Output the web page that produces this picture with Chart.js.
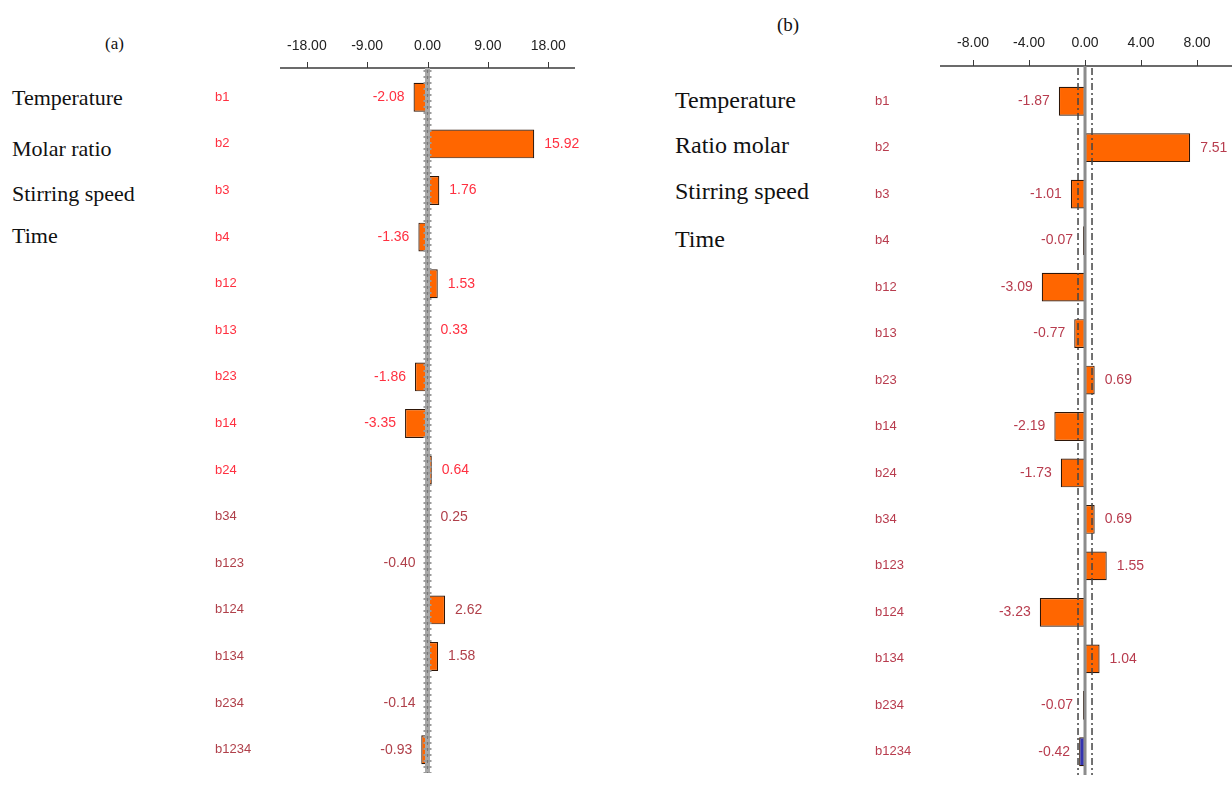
<!DOCTYPE html>
<html><head><meta charset="utf-8">
<script src="https://cdn.jsdelivr.net/npm/chart.js@4.4.1/dist/chart.umd.min.js"></script>
<style>
html,body{margin:0;padding:0;background:#fff;width:1232px;height:787px;overflow:hidden;position:relative}
.box{position:absolute;top:0;height:787px}
.lbl{position:absolute;font-family:'Liberation Serif','Times New Roman',serif;color:#111;white-space:nowrap;line-height:1}
</style></head><body>
<div id="textLayer"></div>
<div class="box" style="left:0;width:620px"><canvas id="chartA"></canvas></div>
<div class="box" style="left:640px;width:592px"><canvas id="chartB"></canvas></div>
<script>
// ---- data ----
const categories = ['b1','b2','b3','b4','b12','b13','b23','b14','b24','b34','b123','b124','b134','b234','b1234'];
const valuesA = [-2.08, 15.92, 1.76, -1.36, 1.53, 0.33, -1.86, -3.35, 0.64, 0.25, -0.40, 2.62, 1.58, -0.14, -0.93];
const valuesB = [-1.87, 7.51, -1.01, -0.07, -3.09, -0.77, 0.69, -2.19, -1.73, 0.69, 1.55, -3.23, 1.04, -0.07, -0.42];
const ticksA = [-18, -9, 0, 9, 18];
const ticksB = [-8, -4, 0, 4, 8];
const factorsA = ['Temperature', 'Molar ratio', 'Stirring speed', 'Time'];
const factorsB = ['Temperature', 'Ratio molar', 'Stirring speed', 'Time'];
const limitB = 0.5;
const titleA = '(a)';
const titleB = '(b)';

// ---- static text (positions kept separate from data) ----
const layer = document.getElementById('textLayer');
function addText(t, x, y, fs){
  const d = document.createElement('div');
  d.className = 'lbl'; d.textContent = t;
  d.style.left = x + 'px'; d.style.top = y + 'px'; d.style.fontSize = fs + 'px';
  layer.appendChild(d);
}
addText(titleA, 105, 35, 17);
addText(titleB, 777, 15, 19);
const topsA = [86.6, 138.3, 183.3, 224.6];
const topsB = [88.2, 132.6, 178.9, 226.6];
factorsA.forEach((t,i)=>addText(t, 12, topsA[i], 22));
factorsB.forEach((t,i)=>addText(t, 675, topsB[i], 24));

const FONT = "'Liberation Sans Narrow','Liberation Sans',Arial,sans-serif";

const decorPlugin = {
  id: 'decor',
  afterDatasetsDraw(chart, args, opts) {
    const ctx = chart.ctx;
    const xs = chart.scales.x;
    const ca = chart.chartArea;
    const axisY = ca.top - opts.axisGap;
    ctx.save();
    // axis line + tick marks
    ctx.strokeStyle = '#3a3a3a';
    ctx.lineWidth = 1.5;
    ctx.beginPath(); ctx.moveTo(ca.left, axisY); ctx.lineTo(ca.right, axisY); ctx.stroke();
    ctx.lineWidth = 1;
    xs.ticks.forEach(t => {
      const px = Math.round(xs.getPixelForValue(t.value)) + 0.5;
      ctx.beginPath(); ctx.moveTo(px, axisY - 6); ctx.lineTo(px, axisY); ctx.stroke();
    });
    const x0 = xs.getPixelForValue(0);
    if (opts.style === 'a') {
      ctx.strokeStyle = '#a8a8a8'; ctx.lineWidth = 5;
      ctx.beginPath(); ctx.moveTo(x0, axisY); ctx.lineTo(x0, ca.bottom); ctx.stroke();
      ctx.setLineDash([2, 4]); ctx.lineWidth = 8; ctx.strokeStyle = '#9c9c9c';
      ctx.beginPath(); ctx.moveTo(x0, axisY + 2); ctx.lineTo(x0, ca.bottom); ctx.stroke();
      ctx.setLineDash([3, 3]); ctx.lineWidth = 1; ctx.strokeStyle = '#777';
      ctx.beginPath(); ctx.moveTo(x0, axisY + 2); ctx.lineTo(x0, ca.bottom); ctx.stroke();
    } else {
      ctx.strokeStyle = '#8c8c8c'; ctx.lineWidth = 3;
      ctx.beginPath(); ctx.moveTo(x0, axisY); ctx.lineTo(x0, ca.bottom); ctx.stroke();
      ctx.setLineDash([7, 3, 2, 3]); ctx.lineWidth = 1.5; ctx.strokeStyle = '#444';
      [-opts.limit, opts.limit].forEach(v => {
        const px = xs.getPixelForValue(v);
        ctx.beginPath(); ctx.moveTo(px, axisY + 2); ctx.lineTo(px, ca.bottom); ctx.stroke();
      });
    }
    ctx.setLineDash([]);
    // value labels
    ctx.font = '14px ' + FONT;
    ctx.textBaseline = 'middle';
    const meta = chart.getDatasetMeta(0);
    const data = chart.data.datasets[0].data;
    meta.data.forEach((bar, i) => {
      const v = data[i];
      ctx.fillStyle = opts.labelColor(i);
      const txt = v.toFixed(2);
      if (v < 0) {
        ctx.textAlign = 'right';
        ctx.fillText(txt, Math.min(bar.x, x0 - 3) - 9, bar.y);
      } else {
        ctx.textAlign = 'left';
        ctx.fillText(txt, Math.max(bar.x, x0 + 3) + 10, bar.y);
      }
    });
    ctx.restore();
  }
};

function makeChart(id, values, tickVals, cfg) {
  return new Chart(document.getElementById(id), {
    type: 'bar',
    data: {
      labels: categories,
      datasets: [{
        data: values,
        backgroundColor: values.map((v, i) => cfg.barColor(i)),
        borderColor: '#2e1608',
        borderWidth: 1.2,
        borderSkipped: false,
        minBarLength: 2,
        barPercentage: 0.62,
        categoryPercentage: 1
      }]
    },
    options: {
      indexAxis: 'y',
      responsive: true,
      maintainAspectRatio: false,
      animation: false,
      layout: { padding: cfg.padding },
      plugins: { legend: { display: false }, tooltip: { enabled: false },
        decor: { axisGap: cfg.axisGap, style: cfg.style, limit: limitB, labelColor: cfg.labelColor } },
      scales: {
        x: {
          position: 'top',
          min: cfg.min, max: cfg.max,
          grid: { display: false, drawTicks: false },
          border: { display: false },
          afterBuildTicks: s => { s.ticks = tickVals.map(v => ({ value: v })); },
          afterFit: s => { s.height = cfg.axisHeight; s.paddingLeft = 0; s.paddingRight = 0; },
          ticks: {
            padding: cfg.tickPad,
            maxRotation: 0,
            autoSkip: false,
            color: '#222',
            font: { family: FONT, size: 14 },
            callback: v => Number(v).toFixed(2)
          }
        },
        y: {
          grid: { display: false, drawTicks: false },
          border: { display: false },
          afterFit: s => { s.width = 65; s.paddingTop = 0; s.paddingBottom = 0; },
          ticks: {
            crossAlign: 'far',
            padding: 0,
            autoSkip: false,
            color: c => cfg.labelColor(c.index),
            font: { family: FONT, size: 13 }
          }
        }
      }
    },
    plugins: [decorPlugin]
  });
}

makeChart('chartA', valuesA, ticksA, {
  min: -22, max: 22,
  padding: { left: 215, right: 45, top: 0, bottom: 14 },
  axisHeight: 74, axisGap: 6, tickPad: 19, style: 'a',
  barColor: i => '#ff6600',
  labelColor: i => (i < 9 ? '#ff3040' : '#b0404a')
});
makeChart('chartB', valuesB, ticksB, {
  min: -10.36, max: 10.5,
  padding: { left: 235, right: 0, top: 0, bottom: 12 },
  axisHeight: 78, axisGap: 12, tickPad: 26, style: 'b',
  barColor: i => (i === categories.length - 1 ? '#3434b0' : '#ff6600'),
  labelColor: i => '#b83c4e'
});
</script>
</body></html>
